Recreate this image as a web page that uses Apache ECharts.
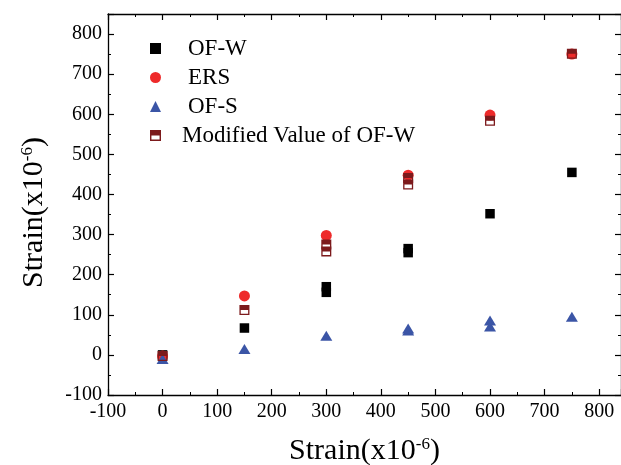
<!DOCTYPE html>
<html>
<head>
<meta charset="utf-8">
<script src="https://cdn.jsdelivr.net/npm/echarts@6/dist/echarts.min.js"></script>
<style>
  html, body { margin: 0; padding: 0; background: #fff; }
  #main { width: 621px; height: 465px; }
</style>
</head>
<body>
<div id="main"></div>
<script>
const ofW = [[0, 0], [150, 67], [300, 170], [300, 156], [450, 265], [450, 255], [600, 352], [750, 455]];
const ers = [[0, -3], [150, 147], [300, 298], [450, 448], [600, 598], [750, 750]];
const ofS = [[0, -10], [150, 15], [300, 48], [450, 61], [450, 66], [600, 71], [600, 86], [750, 95]];
const modified = [[0, -3], [150, 112], [300, 275], [300, 258], [450, 441], [450, 425], [600, 584], [750, 751]];
const legendNames = ['OF-W', 'ERS', 'OF-S', 'Modified Value of OF-W'];

const font = 'Liberation Serif';
// half filled square (top filled, bottom hollow)
const halfSquare = 'path://M0,0 L10,0 L10,10 L0,10 Z M1.3,5 L1.3,8.7 L8.7,8.7 L8.7,5 Z';

let chart = echarts.init(document.getElementById('main'));

const titleRich = {
  sup: { fontFamily: font, fontSize: 17, verticalAlign: 'top', padding: [0, 0, 13, 0], color: '#000' }
};

function frameAxis(extra) {
  return Object.assign({
    type: 'value',
    axisLine: { show: true, onZero: false, lineStyle: { color: '#000', width: 1.3 } },
    axisTick: { show: true, inside: true, length: 6, lineStyle: { color: '#000', width: 1.2 } },
    minorTick: { show: true, splitNumber: 2, length: 3, lineStyle: { color: '#000' } },
    splitLine: { show: false },
    axisLabel: { show: false }
  }, extra);
}

const option = {
  backgroundColor: '#fff',
  animation: false,
  grid: { left: 108, right: 0, top: 14, bottom: 70, outerBoundsMode: 'none' },
  legend: {
    orient: 'vertical',
    left: 145,
    top: 32,
    itemGap: 6,
    itemWidth: 11,
    itemHeight: 11,
    data: legendNames.map((n, i) => i === 3 ? { name: n, textStyle: { padding: [0, 0, 0, 16] } } : n),
    textStyle: { fontFamily: font, fontSize: 23, color: '#000', padding: [0, 0, 0, 22] }
  },
  xAxis: [
    frameAxis({
      min: -100, max: 840, interval: 100,
      name: 'Strain(x10{sup|-6})',
      nameLocation: 'middle',
      nameGap: 41,
      nameTextStyle: { fontFamily: font, fontSize: 30, color: '#000', rich: titleRich },
      axisLabel: { show: true, showMaxLabel: false, fontFamily: font, fontSize: 20, color: '#000', margin: 7 }
    }),
    frameAxis({ position: 'top', min: -100, max: 840, interval: 100 })
  ],
  yAxis: [
    frameAxis({
      min: -100, max: 850, interval: 100,
      name: 'Strain(x10{sup|-6})',
      nameLocation: 'middle',
      nameGap: 59,
      nameTextStyle: { fontFamily: font, fontSize: 30, color: '#000', rich: titleRich, padding: [0, 16, 0, 0] },
      axisLabel: { show: true, showMaxLabel: false, fontFamily: font, fontSize: 20, color: '#000', margin: 6 }
    }),
    frameAxis({ position: 'right', min: -100, max: 850, interval: 100 })
  ],
  series: [
    {
      name: 'OF-W', type: 'scatter', symbol: 'rect', symbolSize: 9.5,
      itemStyle: { color: '#000', opacity: 1 }, data: ofW
    },
    {
      name: 'ERS', type: 'scatter', symbol: 'circle', symbolSize: 11,
      itemStyle: { color: '#ee2a2a', opacity: 1 }, data: ers
    },
    {
      name: 'OF-S', type: 'scatter', symbol: 'triangle', symbolSize: [12, 10],
      itemStyle: { color: '#3b55a6', opacity: 1 }, data: ofS
    },
    {
      name: 'Modified Value of OF-W', type: 'scatter', symbol: halfSquare, symbolSize: 10,
      itemStyle: { color: '#7c1a1c', opacity: 1 }, data: modified
    }
  ]
};

chart.setOption(option);
</script>
</body>
</html>
